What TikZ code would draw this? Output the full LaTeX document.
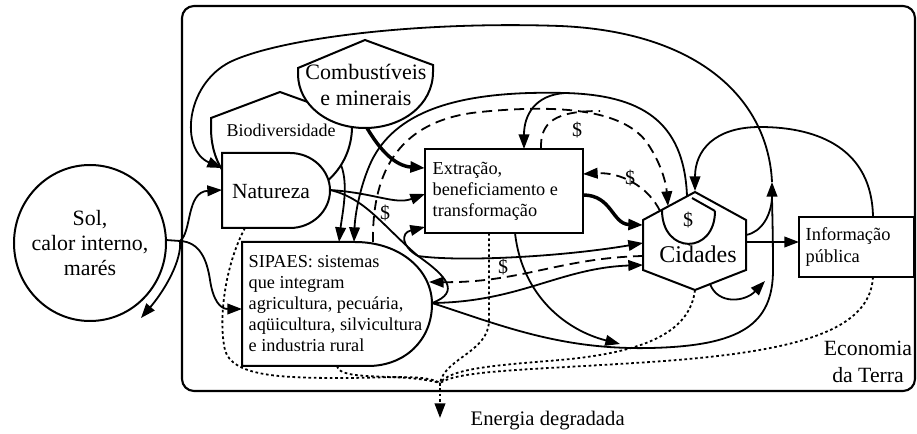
\documentclass[tikz,border=0pt]{standalone}
\usepackage{fontspec}
\setmainfont{Liberation Serif}
\usetikzlibrary{arrows.meta}

\tikzset{
  line/.style={line width=1.35pt},
  flow/.style={line width=1.35pt,-{Triangle[length=11pt,width=8pt]}},
  thick flow/.style={flow,line width=2.6pt},
  money/.style={dash pattern=on 7.5pt off 4.5pt},
  heat/.style={line width=1.35pt,dash pattern=on 2pt off 2pt},
  sym/.style={line width=1.5pt,fill=white},
  cash/.style={inner sep=0pt,font=\fontsize{15}{17}\selectfont}
}

\begin{document}
\begin{tikzpicture}[x=0.75pt,y=0.75pt,yscale=-1,xscale=1]
	\useasboundingbox (0,0) rectangle (917,434);

	%Rounded Rect (Economia da Terra)
	\draw[line width=1.6pt,rounded corners=9pt] (182,6) rectangle (915,391);

	%Source
	\draw[sym] (90,243) ellipse (76 and 78);
	%Tank: Biodiversidade
	\draw[sym] (211,118) -- (280,92) -- (352,118) -- (352,128) .. controls (351,168) and (320,197) .. (281,199) .. controls (240,200) and (211,172) .. (211,128) -- cycle;
	%Tank: Combustiveis
	\draw[sym] (298,68) -- (365,40) -- (433,65) -- (433,72) .. controls (433,105) and (402,128) .. (365,128) .. controls (328,128) and (298,105) .. (298,74) -- cycle;
	%Producer: Natureza
	\draw[sym] (222,153) -- (290,153) .. controls (312,153) and (330,170) .. (330,190.5) .. controls (330,211) and (312,228) .. (290,228) -- (222,228) -- cycle;
	%Rect: Extracao
	\draw[sym] (425,149) rectangle (583,233);
	%Producer: SIPAES
	\draw[sym] (242,242) -- (355,242) .. controls (400,242) and (432,270) .. (432,304) .. controls (432,340) and (405,366) .. (368,366) -- (242,366) -- cycle;
	%Consumer: Cidades
	\draw[sym] (695,192) -- (746,220) -- (746,270) -- (695,290) -- (643,270) -- (643,220) -- cycle;
	\draw[line width=1.5pt] (662,210) .. controls (662,255) and (715,255) .. (715,211);
	\draw[line width=1.5pt] (692,198) -- (715,211);
	%Rect: Informacao
	\draw[sym] (799,217) rectangle (914,277);

	% Text Node
	\node[align=center,font=\fontsize{16.4}{18.75}\selectfont] (sol) at (90,243) {Sol,\\calor interno,\\marés};
	% Text Node
	\node[font=\fontsize{13.5}{16}\selectfont] (biodiv) at (281,130) {Biodiversidade};
	% Text Node
	\node[align=center,font=\fontsize{16.5}{19.5}\selectfont] (combust) at (366,85) {Combustíveis\\e minerais};
	% Text Node
	\node[font=\fontsize{16.2}{19}\selectfont] (natureza) at (271,192) {Natureza};
	% Text Node
	\node[anchor=west,align=left,font=\fontsize{13.7}{15.75}\selectfont] (extracao) at (428,191) {Extração,\\beneficiamento e\\transformação};
	% Text Node
	\node[anchor=west,align=left,font=\fontsize{13.7}{15.75}\selectfont] (sipaes) at (244,304) {SIPAES: sistemas\\que integram\\agricultura, pecuária,\\aqüicultura, silvicultura\\e industria rural};
	% Text Node
	\node[font=\fontsize{18}{20}\selectfont] (cidades) at (698,254) {Cidades};
	\node[cash] (cash0) at (688,220) {\$};
	% Text Node
	\node[anchor=west,align=left,font=\fontsize{13.8}{16.5}\selectfont] (info) at (801,247) {Informação\\pública};
	% Text Node
	\node[align=center,font=\fontsize{16.3}{20}\selectfont] (economia) at (868,362) {Economia\\da Terra};
	% Text Node
	\node[anchor=west,font=\fontsize{15.5}{18}\selectfont] (energia) at (466,421) {Energia degradada};

	% ports
	\coordinate (sol-e) at (166,240);
	\coordinate (sol-split) at (180,241);
	\coordinate (sol-out) at (141,318);
	\coordinate (nat-w) at (222,190);
	\coordinate (nat-nw) at (222,168);
	\coordinate (nat-e) at (330,190);
	\coordinate (nat-s) at (245,228);
	\coordinate (bio-se) at (341,165);
	\coordinate (com-s) at (367,128);
	\coordinate (ext-w1) at (425,168);
	\coordinate (ext-w2) at (425,194);
	\coordinate (ext-sw) at (425,227);
	\coordinate (ext-n1) at (524,149);
	\coordinate (ext-n2) at (541,149);
	\coordinate (ext-e1) at (583,174);
	\coordinate (ext-e2) at (583,195);
	\coordinate (ext-s1) at (489,233);
	\coordinate (ext-s2) at (515,233);
	\coordinate (sip-w) at (242,309);
	\coordinate (sip-n1) at (339,242);
	\coordinate (sip-n2) at (354,242);
	\coordinate (sip-n3) at (373,242);
	\coordinate (sip-e) at (432,303);
	\coordinate (sip-e2) at (429,282);
	\coordinate (sip-s) at (337,366);
	\coordinate (cid-n) at (695,191);
	\coordinate (cid-n2) at (687,196);
	\coordinate (cid-nw) at (668,206);
	\coordinate (cid-nw2) at (660,211);
	\coordinate (cid-w1) at (643,225);
	\coordinate (cid-w2) at (643,243);
	\coordinate (cid-w3) at (643,256);
	\coordinate (cid-w4) at (643,265);
	\coordinate (cid-e) at (746,242);
	\coordinate (cid-e2) at (746,235);
	\coordinate (cid-se) at (710,284);
	\coordinate (cid-s) at (695,290);
	\coordinate (inf-w) at (799,242);
	\coordinate (inf-n) at (873,217);
	\coordinate (inf-s) at (873,277);
	\coordinate (trunk) at (772,182);
	\coordinate (split) at (418,256);
	\coordinate (arcsplit) at (565,93);
	\coordinate (sinkjoin) at (440,383);
	\coordinate (sink) at (440,418);

	%Sol inflows
	\draw[line] (sol-e) -- (sol-split);
	\draw[flow] (sol-split) .. controls (192,232) and (186,192) .. (nat-w);
	\draw[flow] (sol-split) .. controls (182,260) and (165,290) .. (sol-out);
	\draw[flow] (sol-split) .. controls (200,242) and (207,260) .. (210,280) .. controls (213,300) and (220,309) .. (sip-w);

	%recycle loop
	\draw[flow] (sip-e) .. controls (500,325) and (560,350) .. (650,348) .. controls (740,346) and (773,325) .. (773,270) .. controls (773,230) and (772,205) .. (trunk);
	\draw[flow] (trunk) .. controls (768,100) and (700,32) .. (560,26) .. controls (420,21) and (280,38) .. (230,62) .. controls (185,85) and (180,150) .. (nat-nw);
	\draw[line] (cid-e2) .. controls (762,232) and (771,215) .. (772,198);
	\draw[flow] (cid-se) .. controls (718,305) and (745,302) .. (765,281);
	\draw[flow] (ext-s2) .. controls (522,295) and (565,330) .. (620,344);

	%Cidades and Informacao
	\draw[flow] (cid-e) -- (inf-w);
	\draw[flow] (inf-n) .. controls (872,150) and (820,127) .. (760,127) .. controls (715,127) and (695,150) .. (cid-n);

	%resources to Extracao
	\draw[thick flow] (com-s) .. controls (380,150) and (395,166) .. (ext-w1);
	\draw[flow] (nat-e) .. controls (375,193) and (395,205) .. (ext-w2);
	\draw[line] (nat-e) .. controls (365,198) and (382,225) .. (split) .. controls (445,275) and (462,292) .. (sip-e);
	\draw[flow] (split) .. controls (402,247) and (400,233) .. (ext-sw);
	\draw[flow] (split) .. controls (460,262) and (560,257) .. (cid-w2);
	\draw[flow] (sip-e) .. controls (520,302) and (560,268) .. (cid-w4);
	\draw[thick flow] (ext-e2) .. controls (612,195) and (612,224) .. (cid-w1);
	\draw[flow] (bio-se) .. controls (349,185) and (342,215) .. (sip-n1);

	%feedback from Cidades
	\draw[flow] (cid-n2) .. controls (684,120) and (640,95) .. (arcsplit) .. controls (450,90) and (395,115) .. (372,160) .. controls (360,185) and (355,215) .. (sip-n2);
	\draw[flow] (arcsplit) .. controls (535,95) and (524,115) .. (ext-n1);

	%money
	\draw[flow,money] (cid-w3) .. controls (560,258) and (520,283) .. (sip-e2);
	\draw[flow,money] (cid-nw2) .. controls (648,186) and (620,172) .. (ext-e1);
	\draw[flow,money] (sip-n3) .. controls (372,170) and (400,120) .. (480,112) .. controls (560,104) and (620,110) .. (645,140) .. controls (660,160) and (666,182) .. (cid-nw);
	\draw[line,money] (ext-n2) .. controls (540,122) and (555,111) .. (600,111);
	\node[cash] (cash1) at (385,213) {\$};
	\node[cash] (cash2) at (577,130) {\$};
	\node[cash] (cash3) at (630,178) {\$};
	\node[cash] (cash4) at (503,267) {\$};

	%heat sink
	\draw[heat] (nat-s) .. controls (225,265) and (218,320) .. (225,350) .. controls (232,376) and (280,378) .. (340,378) .. controls (390,378) and (425,374) .. (sinkjoin);
	\draw[heat] (sip-s) .. controls (340,382) and (400,372) .. (sinkjoin);
	\draw[heat] (ext-s1) -- (489,320) .. controls (489,352) and (445,358) .. (sinkjoin);
	\draw[heat] (cid-s) .. controls (690,330) and (650,352) .. (560,360) .. controls (500,365) and (450,368) .. (sinkjoin);
	\draw[heat] (inf-s) .. controls (870,330) and (800,352) .. (650,362) .. controls (530,370) and (460,370) .. (sinkjoin);
	\draw[flow,heat] (sinkjoin) -- (sink);

\end{tikzpicture}
\end{document}
